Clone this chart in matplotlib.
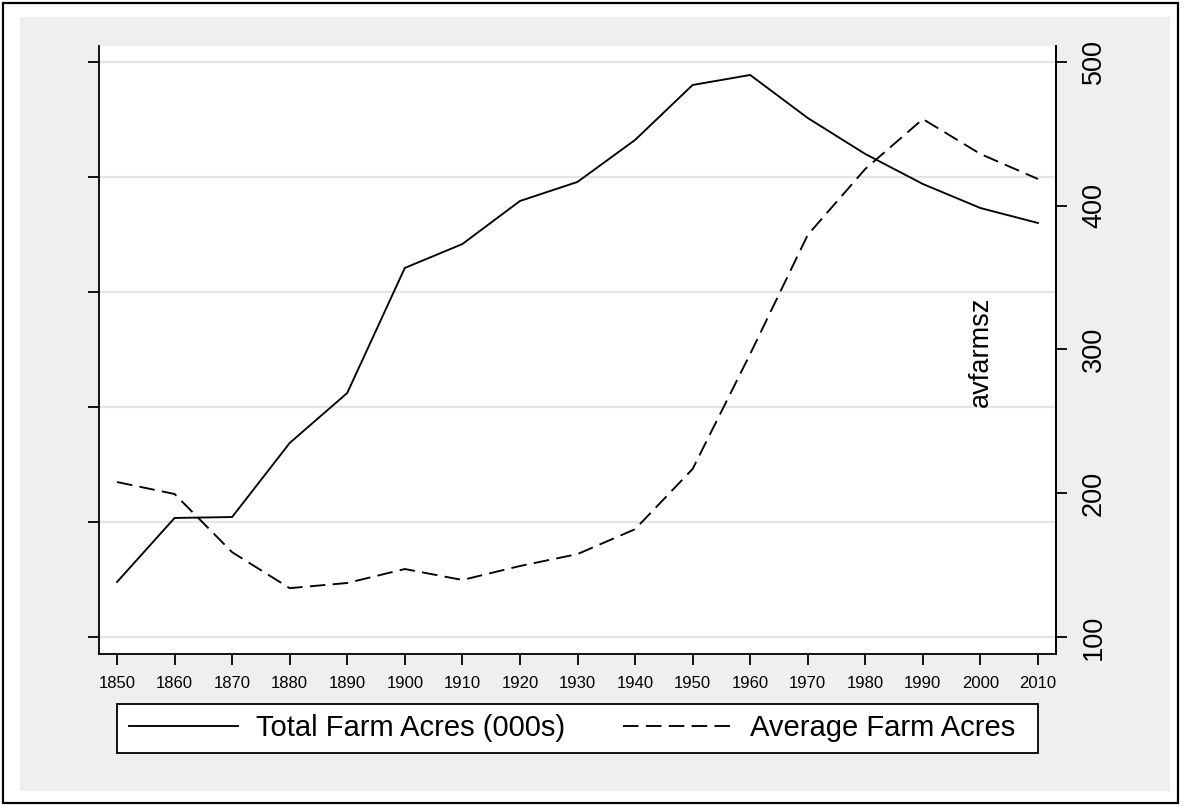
import matplotlib
matplotlib.use("Agg")
import matplotlib.pyplot as plt
from matplotlib.patches import Rectangle
from matplotlib.lines import Line2D
from matplotlib import font_manager

# ---- data ----
years = [1850, 1860, 1870, 1880, 1890, 1900, 1910, 1920, 1930, 1940,
         1950, 1960, 1970, 1980, 1990, 2000, 2010]
total_acres = [4780, 10350, 10430, 16870, 21220, 32090, 34170, 37910, 39570,
               43220, 48000, 48870, 45130, 42000, 39390, 37300, 36000]
avg_acres = [207.8, 199.5, 159, 134, 137.6, 147.3, 139.7, 149.4, 157.7, 175,
             216.9, 296.9, 379.7, 425.6, 460.3, 436, 418.6]
x_ticks = list(range(1850, 2011, 10))
left_ticks = [0, 10000, 20000, 30000, 40000, 50000]
right_ticks = [100, 200, 300, 400, 500]
label_total = "Total Farm Acres (000s)"
label_avg = "Average Farm Acres"
right_title = "avfarmsz"

W, H = 1186, 806
DPI = 100
fig = plt.figure(figsize=(W / DPI, H / DPI), dpi=DPI, facecolor="white")

avail = {f.name for f in font_manager.fontManager.ttflist}
base_font = "Liberation Sans" if "Liberation Sans" in avail else "DejaVu Sans"
narrow_font = "Liberation Sans Narrow" if "Liberation Sans Narrow" in avail else base_font
narrow_size = 23.5 if narrow_font == "Liberation Sans Narrow" else 19.5
plt.rcParams["font.family"] = [base_font, "DejaVu Sans"]


def px(x0, y0, x1, y1):
    """pixel box (top-left origin) -> figure fraction rect"""
    return (x0 / W, 1 - y1 / H, (x1 - x0) / W, (y1 - y0) / H)


def rect(box, **kw):
    r = px(*box)
    return Rectangle(r[:2], r[2], r[3], transform=fig.transFigure, **kw)


# outer border and gray graph region
fig.patches.append(rect((3, 3, 1178, 803), facecolor="white", edgecolor="black",
                        linewidth=1.6, zorder=-3))
fig.patches.append(rect((20, 17, 1170, 791), facecolor="#efefef", edgecolor="none",
                        zorder=-2))

LW = 1.35
DASH = (8.3, 3.9)

ax = fig.add_axes(px(99, 46, 1056, 654))
ax.set_facecolor("white")
ax.plot(years, total_acres, color="black", lw=LW, solid_joinstyle="miter")
ax.set_xlim(1846.87, 2013.13)
ax.set_ylim(-1480, 51390)
ax.set_yticks(left_ticks)
ax.set_yticklabels([])
ax.grid(axis="y", color="#e4e4e4", lw=1.6)
ax.set_axisbelow(True)
ax.set_xticks(x_ticks)
ax.set_xticklabels([str(v) for v in x_ticks], fontsize=12)
ax.tick_params(axis="x", length=8, width=1.3, pad=8, color="black")
ax.tick_params(axis="y", length=8, width=1.3, color="black")
ax.spines["top"].set_visible(False)
for s in ["left", "bottom", "right"]:
    ax.spines[s].set_linewidth(1.3)

ax2 = ax.twinx()
ax2.plot(years, avg_acres, color="black", lw=LW, dashes=DASH)
ax2.set_ylim(88.2, 511.1)
ax2.set_yticks(right_ticks)
ax2.set_yticklabels([str(v) for v in right_ticks], rotation=90, va="center",
                    fontsize=narrow_size, family=[narrow_font, "DejaVu Sans"])
ax2.tick_params(axis="y", length=8, width=1.3, pad=10, color="black")
ax2.spines["top"].set_visible(False)
ax2.spines["right"].set_linewidth(1.3)
ax2.spines["left"].set_visible(False)
ax2.spines["bottom"].set_visible(False)

fig.text(981 / W, 1 - 352 / H, right_title, rotation=90, ha="center", va="center",
         fontsize=19.5, family=[base_font, "DejaVu Sans"])

# legend box
fig.patches.append(rect((117, 704, 1038, 753), facecolor="white", edgecolor="black",
                        linewidth=1.3, zorder=1))
handles = [Line2D([], [], color="black", lw=LW),
           Line2D([], [], color="black", lw=LW, dashes=DASH)]
leg = fig.legend(handles, [label_total, label_avg], loc="center left",
                 bbox_to_anchor=(129 / W, 1 - 728.5 / H), ncol=2, frameon=False,
                 fontsize=21, handlelength=3.75, handletextpad=0.6,
                 columnspacing=1.98, borderpad=0, borderaxespad=0)
leg.set_zorder(2)

fig.savefig("out.png", dpi=DPI, facecolor="white")
